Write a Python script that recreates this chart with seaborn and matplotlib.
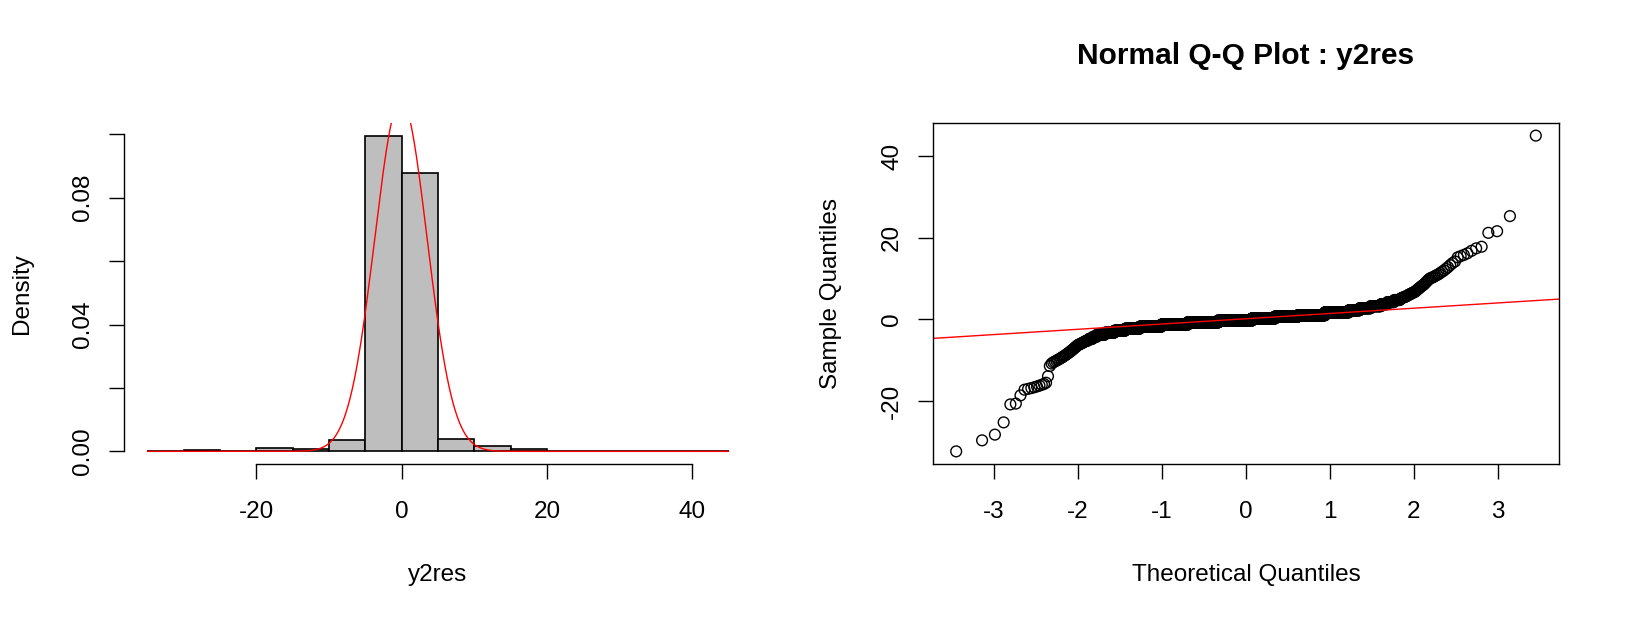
import numpy as np
import pandas as pd
import matplotlib
matplotlib.use("Agg")
import matplotlib.pyplot as plt
import seaborn as sns
from statistics import NormalDist

# ---------------- data ----------------
# sorted residuals: lower tail (one value per point)
left_tail = [-32.3, -29.6, -28.2, -25.2, -20.8, -20.6, -18.6,
             -17.2, -17.0, -16.8, -16.6, -16.4, -16.2, -16.0, -15.8,
             -15.5, -13.9, -11.4, -10.8, -10.5, -10.3, -10.1,
             -9.9, -9.7, -9.5, -9.3, -9.1, -8.9, -8.7, -8.5, -8.3, -8.1,
             -7.9, -7.7, -7.5, -7.3, -7.1, -6.9, -6.7, -6.5, -6.3, -6.2,
             -6.1, -6.0, -5.9, -5.8, -5.7, -5.6, -5.5, -5.4, -5.3, -5.25,
             -5.2, -5.15, -5.1]
# dense body of the distribution: value and how many residuals sit there
body_values = [-4.75, -4.25, -3.75, -3.25, -2.75, -2.25, -1.75, -1.25, -0.70, -0.25,
               0.25, 0.70, 1.04, 1.75, 2.25, 2.75, 3.25, 3.75, 4.25, 4.75]
body_counts = [6, 7, 15, 22, 30, 50, 97, 157, 229, 283,
               192, 175, 170, 114, 40, 34, 27, 14, 13, 10]
# upper tail (one value per point)
right_tail = [5.05, 5.1, 5.2, 5.3, 5.35, 5.4, 5.45, 5.5, 5.6, 5.7,
              5.8, 5.9, 6.0, 6.1, 6.2, 6.3, 6.4, 6.5, 6.6, 6.7,
              6.8, 7.0, 7.2, 7.4, 7.6, 7.8, 8.0, 8.2, 8.4, 8.6,
              8.9, 9.2, 9.5, 9.8, 10.05, 10.2, 10.3, 10.5, 10.7, 10.9,
              11.1, 11.4, 11.7, 12.0, 12.4, 12.8, 13.3, 13.8, 14.2, 15.2,
              15.5, 15.8, 16.2, 16.8, 17.4, 17.8, 21.2, 21.6, 25.3, 45.0]

bin_edges = [-35, -30, -25, -20, -15, -10, -5, 0, 5, 10, 15, 20, 25, 30, 35, 40, 45]
curve_mean = -0.1      # normal curve drawn over the histogram
curve_sd = 3.6

hist_xticks = [-20, 0, 20, 40]
hist_yticks = [0.0, 0.02, 0.04, 0.06, 0.08, 0.10]
hist_yticklabels = ["0.00", "", "0.04", "", "0.08", ""]
qq_xticks = [-3, -2, -1, 0, 1, 2, 3]
qq_yticks = [-20, 0, 20, 40]

# ---------------- derived (statistics only) ----------------
y2res = np.sort(np.concatenate([left_tail,
                                np.repeat(body_values, body_counts),
                                right_tail]))
n = len(y2res)
nd = NormalDist()
theo = np.array([nd.inv_cdf((i - 0.5) / n) for i in range(1, n + 1)])
df = pd.DataFrame({"y2res": y2res, "theo": theo})

q1, q3 = np.quantile(y2res, [0.25, 0.75])
z1, z3 = nd.inv_cdf(0.25), nd.inv_cdf(0.75)
qq_slope = (q3 - q1) / (z3 - z1)
qq_int = q1 - qq_slope * z1

# ---------------- styling ----------------
sns.set_style("ticks")
plt.rcParams["font.family"] = ["Liberation Sans", "DejaVu Sans"]
plt.rcParams["axes.unicode_minus"] = False
plt.rcParams["text.color"] = "black"
plt.rcParams["axes.labelcolor"] = "black"

FS = 17.5
LW = 1.0
TICK_LEN = 10.8
YPAD = 18.7
XPAD = 23.8

W, H = 1626, 618
fig = plt.figure(figsize=(W / 100, H / 100), dpi=100)
bot = (H - 464) / H
hgt = 341 / H
ax1 = fig.add_axes([124 / W, bot, 628 / W, hgt])
ax2 = fig.add_axes([933 / W, bot, 626 / W, hgt])

# ---------------- histogram ----------------
sns.histplot(data=df, x="y2res", bins=bin_edges, stat="density",
             color="#BEBEBE", edgecolor="black", linewidth=1.2, alpha=1,
             ax=ax1)
ax1.use_sticky_edges = False
ax1.margins(0.04)
ax1.set_xlim(ax1.get_xlim())
ax1.set_ylim(ax1.get_ylim())
xs = np.linspace(bin_edges[0], bin_edges[-1], 600)
dist = NormalDist(curve_mean, curve_sd)
ax1.plot(xs, [dist.pdf(v) for v in xs], color="red", lw=1.0,
         scalex=False, scaley=False)

for s in ["top", "right"]:
    ax1.spines[s].set_visible(False)
ax1.spines["left"].set_bounds(hist_yticks[0], hist_yticks[-1])
ax1.spines["bottom"].set_bounds(hist_xticks[0], hist_xticks[-1])
ax1.set_xticks(hist_xticks)
ax1.set_xticklabels([str(v) for v in hist_xticks])
ax1.set_yticks(hist_yticks)
ax1.set_yticklabels(hist_yticklabels)
ax1.set_xlabel("y2res", fontsize=FS, va="center")
ax1.set_ylabel("Density", fontsize=FS, va="center", ha="center")
ax1.xaxis.set_label_coords(0.5, (464 - 575) / 341)
ax1.yaxis.set_label_coords((22 - 124) / 628, 0.5)

# ---------------- QQ plot ----------------
sns.scatterplot(data=df, x="theo", y="y2res", ax=ax2, s=60, linewidth=1.0,
                marker="o", legend=False)
for coll in ax2.collections:
    coll.set_facecolor("none")
    coll.set_edgecolor("black")
ax2.margins(0.04)
ax2.set_xlim(ax2.get_xlim())
ax2.set_ylim(ax2.get_ylim())
ax2.axline((0, qq_int), slope=qq_slope, color="red", lw=1.0)
for s in ax2.spines.values():
    s.set_visible(True)
    s.set_linewidth(LW)
    s.set_color("black")
ax2.set_xticks(qq_xticks)
ax2.set_xticklabels([str(v) for v in qq_xticks])
ax2.set_yticks(qq_yticks)
ax2.set_yticklabels([str(v) for v in qq_yticks])
ax2.set_xlabel("Theoretical Quantiles", fontsize=FS, va="center")
ax2.set_ylabel("Sample Quantiles", fontsize=FS, va="center", ha="center")
ax2.xaxis.set_label_coords(0.5, (464 - 575) / 341)
ax2.yaxis.set_label_coords((831 - 933) / 626, 0.5)
ax2.set_title("Normal Q-Q Plot : y2res", fontsize=21.5, fontweight="bold",
              y=(464 - 64) / 341, va="center", color="black")

for ax in (ax1, ax2):
    for s in ["left", "bottom"]:
        ax.spines[s].set_linewidth(LW)
        ax.spines[s].set_color("black")
    ax.tick_params(direction="out", length=TICK_LEN, width=LW, colors="black",
                   labelsize=FS)
    ax.tick_params(axis="y", pad=YPAD, labelrotation=90)
    ax.tick_params(axis="x", pad=XPAD)
    for t in ax.get_yticklabels():
        t.set_va("center")
        t.set_ha("center")
    for t in ax.get_xticklabels():
        t.set_va("center")
    ax.grid(False)

fig.savefig("out.png", dpi=100, facecolor="white")
